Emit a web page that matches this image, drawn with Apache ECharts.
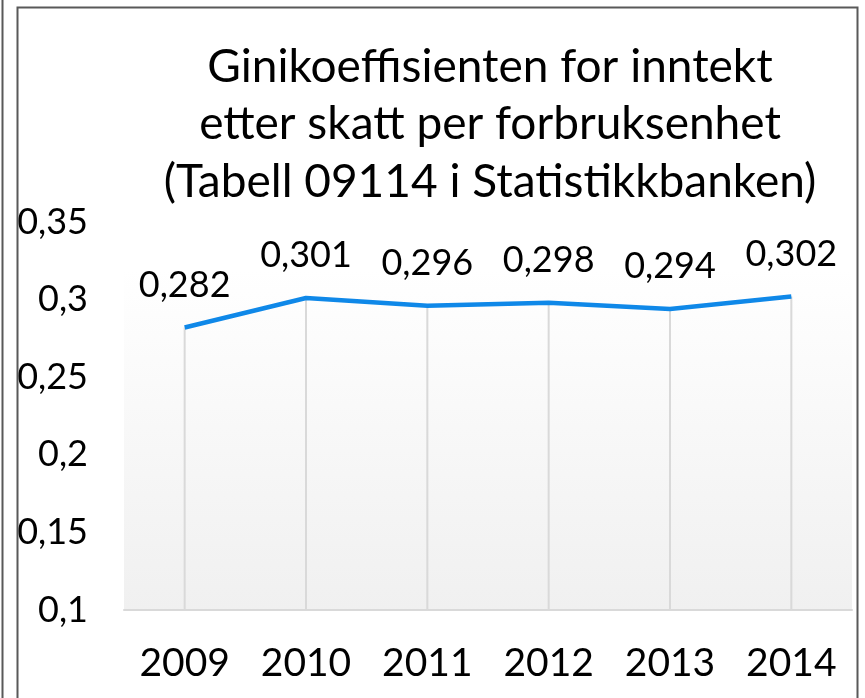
<!DOCTYPE html>
<html>
<head>
<meta charset="utf-8">
<script src="https://cdn.jsdelivr.net/npm/echarts@6/dist/echarts.min.js"></script>
<style>
html,body{margin:0;padding:0;background:#fff;}
#c{width:865px;height:698px;}
</style>
</head>
<body>
<div id="c"></div>
<script>
var titleText = "Ginikoeffisienten for inntekt\netter skatt per forbruksenhet\n(Tabell 09114 i Statistikkbanken)";
var years = ["2009", "2010", "2011", "2012", "2013", "2014"];
var gini = [0.282, 0.301, 0.296, 0.298, 0.294, 0.302];
var yMin = 0.1, yMax = 0.35, yStep = 0.05;

var FONT = "Lato, 'Open Sans', sans-serif";
function fmt(v) { return String(+v.toFixed(3)).replace('.', ','); }

var chart = echarts.init(document.getElementById('c'), null, {renderer: 'canvas'});
chart.setOption({
  animation: false,
  backgroundColor: '#ffffff',
  title: {
    text: titleText,
    left: 485, top: 33, textAlign: 'center',
    textStyle: {fontFamily: FONT, fontSize: 46, fontWeight: 'normal', color: '#000', lineHeight: 57.5}
  },
  graphic: [
    {type: 'rect', shape: {x: 17.5, y: 7.5, width: 840, height: 720}, style: {fill: 'none', stroke: '#595959', lineWidth: 2}, z: 100},
    {type: 'line', shape: {x1: 2.5, y1: 0, x2: 2.5, y2: 698}, style: {stroke: '#595959', lineWidth: 2}, z: 100}
  ],
  grid: {
    left: 124, right: 13, top: 222, bottom: 88, containLabel: false,
    show: true, borderWidth: 0,
    backgroundColor: new echarts.graphic.LinearGradient(0, 0, 0, 1, [
      {offset: 0, color: '#ffffff'}, {offset: 0.12, color: '#ffffff'}, {offset: 1, color: '#f0f0f0'}
    ])
  },
  xAxis: {
    type: 'category', data: years, boundaryGap: true,
    axisLine: {show: true, lineStyle: {color: '#d9d9d9', width: 2}},
    axisTick: {show: false},
    axisLabel: {fontFamily: FONT, fontSize: 39, color: '#000', margin: 34, interval: 0},
    splitLine: {show: false}
  },
  yAxis: {
    type: 'value', min: yMin, max: yMax, interval: yStep,
    axisLine: {show: false}, axisTick: {show: false},
    splitLine: {show: false},
    axisLabel: {fontFamily: FONT, fontSize: 36, color: '#000', margin: 36, formatter: function (v) { return fmt(v); }}
  },
  series: [
    {
      type: 'bar', data: gini, barWidth: 2, barGap: '-100%', clip: true,
      itemStyle: {color: '#d9d9d9'}, silent: true, z: 1
    },
    {
      type: 'line', data: gini, symbol: 'circle', symbolSize: 1, showSymbol: true, z: 5,
      itemStyle: {color: 'rgba(0,0,0,0)'},
      lineStyle: {color: '#0F88E8', width: 4.5},
      label: {show: true, position: 'top', distance: 24, fontFamily: FONT, fontSize: 36, color: '#000',
        formatter: function (p) { return fmt(p.value); }}
    }
  ]
});
</script>
</body>
</html>
